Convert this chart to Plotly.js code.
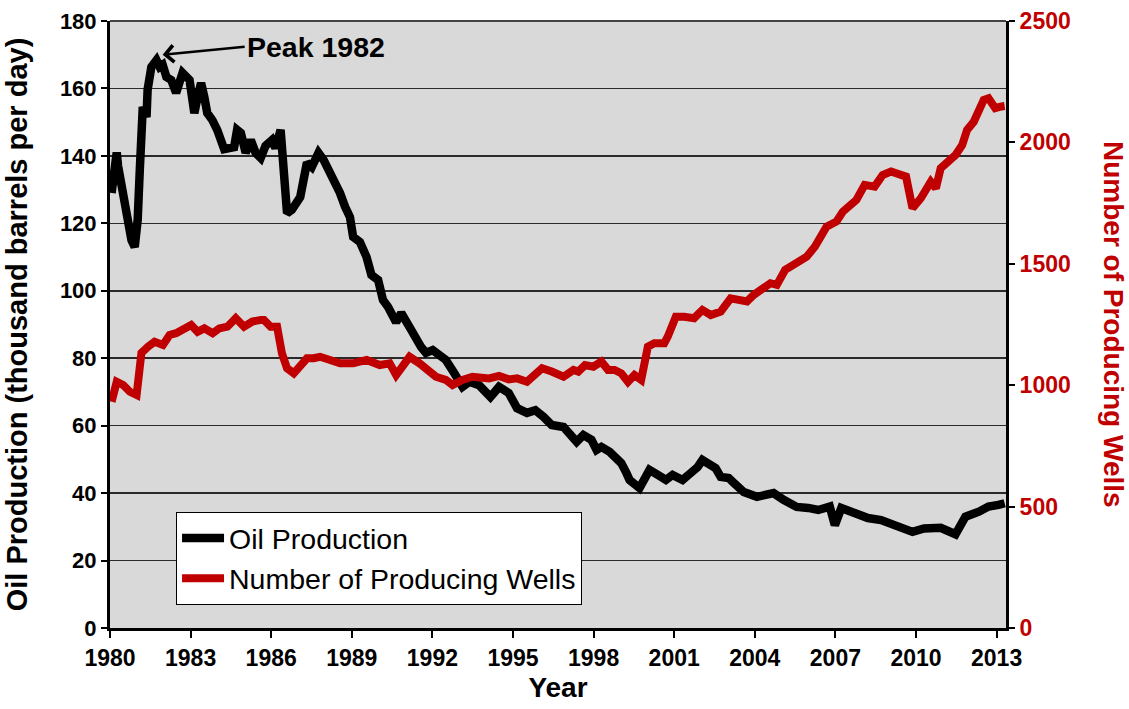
<!DOCTYPE html>
<html>
<head>
<meta charset="utf-8">
<script src="https://cdn.plot.ly/plotly-3.0.1.min.js"></script>
<style>
html,body{margin:0;padding:0;background:#fff;}
#chart{width:1129px;height:709px;}
</style>
</head>
<body>
<div id="chart"></div>
<script>
// Oil production (thousand barrels per day)
const oilYears = [1980.06,1980.25,1980.30,1980.37,1980.55,1980.67,1980.80,1980.92,1981.03,1981.11,1981.17,1981.22,1981.36,1981.40,1981.54,1981.73,1981.85,1981.96,1982.10,1982.28,1982.46,1982.59,1982.70,1982.96,1983.14,1983.26,1983.39,1983.51,1983.62,1983.81,1983.99,1984.25,1984.43,1984.62,1984.73,1984.87,1985.05,1985.24,1985.42,1985.61,1985.79,1986.03,1986.16,1986.35,1986.59,1986.77,1987.08,1987.21,1987.33,1987.51,1987.76,1987.95,1988.19,1988.38,1988.56,1988.75,1988.93,1989.05,1989.30,1989.55,1989.73,1989.98,1990.16,1990.35,1990.65,1990.84,1991.02,1991.21,1991.58,1991.76,1992.01,1992.26,1992.50,1992.81,1993.12,1993.37,1993.74,1994.16,1994.48,1994.84,1995.15,1995.52,1995.83,1996.14,1996.44,1996.88,1997.12,1997.37,1997.62,1997.92,1998.11,1998.29,1998.60,1998.85,1999.03,1999.22,1999.34,1999.71,1999.89,2000.08,2000.39,2000.69,2000.94,2001.31,2001.62,2001.87,2002.05,2002.29,2002.54,2002.73,2003.03,2003.22,2003.59,2004.08,2004.70,2005.07,2005.56,2005.99,2006.36,2006.79,2006.98,2007.22,2007.78,2008.21,2008.70,2009.19,2009.87,2010.30,2010.92,2011.47,2011.84,2012.34,2012.70,2013.07,2013.30];
const oilValues = [129,141,137,134,125,120,115,113,121,136,151,154.5,151.5,159.6,166.4,168.4,166.4,167,163.4,162.5,158.7,161.6,164.6,162.5,152.7,157.5,161.6,157.5,152.7,150.6,147.7,142,142.6,142.6,147.7,146.8,140.9,144.7,140.9,139.4,143,144.7,142.3,147.7,123,124,127.8,132.9,138,136.7,140.9,138.8,135,132.9,129,124.9,121.9,116,114.5,110,104.7,103.2,97.3,95.2,90.7,93.4,90.4,88.4,83.3,81.6,82.4,81,79.5,75.6,71.5,73,72,68.5,71.5,69.7,65.2,63.8,64.6,62.6,60.2,59.6,57.8,55.2,57.2,55.8,52.8,53.7,52.2,50.7,48.9,46,43.9,41.5,44.8,46.9,45.4,43.9,45.4,43.9,46,47.7,49.8,48.3,47.4,44.8,44.5,43,40.3,38.9,40,38,35.9,35.6,35,36,30.5,35.6,34.1,32.6,32,30.5,28.5,29.5,29.7,27.8,33,34.5,36,36.5,37];

// Number of producing wells
const wellYears = [1980.06,1980.25,1980.49,1980.74,1980.99,1981.17,1981.42,1981.66,1981.97,1982.22,1982.46,1982.77,1983.02,1983.26,1983.51,1983.82,1984.07,1984.37,1984.68,1984.99,1985.30,1985.61,1985.73,1985.98,1986.22,1986.40,1986.59,1986.84,1987.08,1987.33,1987.58,1987.82,1988.19,1988.56,1989.05,1989.55,1990.04,1990.41,1990.65,1990.90,1991.15,1991.52,1992.13,1992.50,1992.75,1993.12,1993.49,1994.11,1994.48,1994.84,1995.15,1995.52,1995.83,1996.08,1996.44,1996.88,1997.25,1997.43,1997.68,1997.99,1998.29,1998.54,1998.78,1999.03,1999.28,1999.52,1999.77,2000.02,2000.26,2000.63,2000.76,2001.06,2001.37,2001.74,2002.05,2002.36,2002.73,2003.10,2003.71,2003.96,2004.58,2004.82,2005.13,2005.56,2005.93,2006.24,2006.67,2007.04,2007.28,2007.78,2008.09,2008.46,2008.76,2009.07,2009.32,2009.63,2009.87,2010.18,2010.55,2010.74,2010.92,2011.23,2011.47,2011.72,2011.90,2012.15,2012.52,2012.70,2012.95,2013.18,2013.30];
const wellCounts = [932,1014,1001,973,960,1133,1159,1179,1166,1207,1214,1234,1248,1220,1234,1214,1234,1241,1276,1241,1262,1269,1269,1241,1241,1131,1070,1049,1083,1111,1111,1117,1104,1090,1090,1104,1083,1090,1042,1080,1117,1090,1035,1022,1001,1022,1035,1028,1038,1024,1028,1014,1042,1070,1056,1035,1063,1056,1083,1076,1097,1063,1063,1049,1014,1042,1022,1159,1173,1173,1200,1282,1282,1276,1310,1289,1303,1358,1345,1372,1420,1413,1475,1502,1529,1571,1653,1674,1715,1763,1825,1818,1866,1880,1873,1859,1729,1770,1838,1811,1894,1928,1948,1989,2051,2085,2175,2182,2141,2148,2150];

const xTickVals = [1980,1983,1986,1989,1992,1995,1998,2001,2004,2007,2010,2013];
const leftTickVals = [0,20,40,60,80,100,120,140,160,180];
const rightTickVals = [0,500,1000,1500,2000,2500];

const RED = '#c00000';
const FONT = 'Liberation Sans, Arial, sans-serif';

const traces = [
  {x: oilYears, y: oilValues, name: 'Oil Production', type: 'scatter', mode: 'lines',
   line: {color: '#000000', width: 8.5}, yaxis: 'y'},
  {x: wellYears, y: wellCounts, name: 'Number of Producing Wells', type: 'scatter', mode: 'lines',
   line: {color: RED, width: 8}, yaxis: 'y2'}
];

const layout = {
  width: 1129, height: 709,
  margin: {l: 110, r: 123, t: 21, b: 81, pad: 0},
  paper_bgcolor: '#ffffff',
  plot_bgcolor: '#d9d9d9',
  font: {family: FONT, color: '#000'},
  showlegend: true,
  legend: {
    x: 0.0737, y: 0.191, xanchor: 'left', yanchor: 'top',
    bgcolor: '#ffffff', bordercolor: '#000000', borderwidth: 1,
    font: {family: FONT, size: 28.5, color: '#000'},
    tracegroupgap: 0, itemwidth: 42
  },
  xaxis: {
    range: [1980, 2013.35], tickvals: xTickVals, ticktext: xTickVals.map(String),
    showgrid: false, zeroline: false,
    showline: true, linecolor: '#000', linewidth: 3,
    ticks: 'outside', ticklen: 7, tickwidth: 2, tickcolor: '#000',
    tickfont: {family: FONT, size: 23, weight: 'bold', color: '#000'},
    title: {text: 'Year', font: {family: FONT, size: 28, weight: 'bold', color: '#000'}, standoff: 8},
    automargin: false, fixedrange: true
  },
  yaxis: {
    range: [0, 180], tickvals: leftTickVals,
    showgrid: true, gridcolor: '#2a2a2a', gridwidth: 1.5,
    zeroline: false,
    showline: true, linecolor: '#000', linewidth: 3,
    ticks: 'outside', ticklen: 6, tickwidth: 2, tickcolor: '#000',
    tickfont: {family: FONT, size: 22, weight: 'bold', color: '#000'},
    title: {text: 'Oil Production (thousand barrels per day)', font: {family: FONT, size: 29, weight: 'bold', color: '#000'}, standoff: 24},
    automargin: false, fixedrange: true
  },
  yaxis2: {
    range: [0, 2500], tickvals: rightTickVals,
    overlaying: 'y', side: 'right',
    showgrid: false, zeroline: false,
    showline: true, linecolor: '#000', linewidth: 3,
    ticks: 'outside', ticklen: 6, tickwidth: 2, tickcolor: '#000',
    tickfont: {family: FONT, size: 23, weight: 'bold', color: RED},
    automargin: false, fixedrange: true
  },
  shapes: [
    {type: 'line', xref: 'paper', yref: 'paper', x0: 0, x1: 1, y0: 1, y1: 1,
     line: {color: '#444', width: 2}}
  ],
  annotations: [
    {text: 'Number of Producing Wells', xref: 'paper', yref: 'paper', x: 1.12, y: 0.5,
     xanchor: 'center', yanchor: 'middle', textangle: 90, showarrow: false,
     font: {family: FONT, size: 28, weight: 'bold', color: RED}},
    {text: 'Peak 1982', xref: 'x', yref: 'y', x: 1981.96, y: 170,
     showarrow: true, ax: 82, ay: -8, xanchor: 'left', yanchor: 'middle',
     arrowhead: 4, arrowsize: 1.3, arrowwidth: 2.5, arrowcolor: '#000',
     font: {family: FONT, size: 28.5, weight: 'bold', color: '#000'}}
  ]
};

Plotly.newPlot('chart', traces, layout, {displayModeBar: false, staticPlot: true});
</script>
</body>
</html>
